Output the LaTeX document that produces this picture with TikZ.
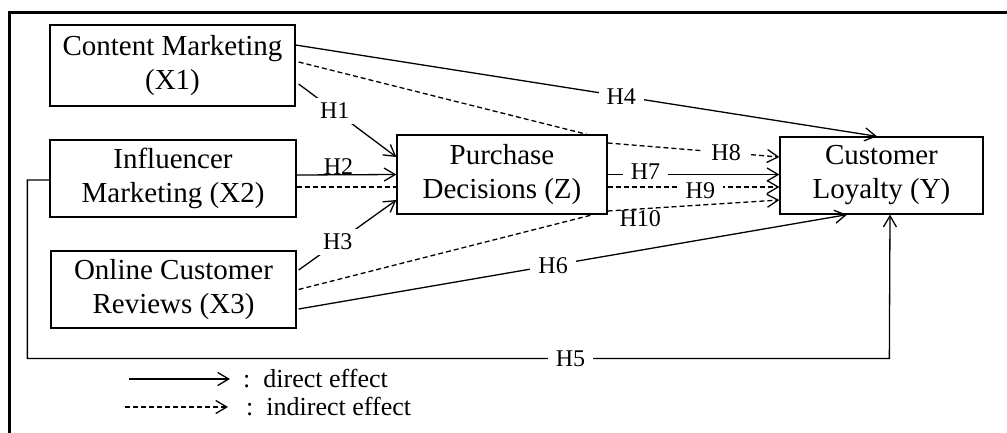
\documentclass[tikz,border=0pt]{standalone}
\usepackage{fontspec}
\setmainfont{Liberation Serif}
\usetikzlibrary{arrows.meta}
\begin{document}
\begin{tikzpicture}[x=1pt,y=-1pt,
  box/.style={draw, line width=1.3pt, align=center, font=\fontsize{29}{34}\selectfont, inner sep=0pt},
  lbl/.style={font=\fontsize{24}{28}\selectfont, fill=white, inner xsep=8pt, inner ysep=2pt},
  lblplain/.style={font=\fontsize{24}{28}\selectfont, inner sep=1pt},
  legtext/.style={font=\fontsize{26}{30}\selectfont, anchor=west, inner sep=0pt},
  dir/.style={line width=1.3pt, -{Straight Barb[length=11pt,width=13pt]}},
  ind/.style={dir, dash pattern=on 5pt off 3pt},
  indl/.style={line width=1.3pt, dash pattern=on 5pt off 3pt}]
\useasboundingbox (0,0) rectangle (1007,432);
\clip (0,0) rectangle (1007,432);
\draw[line width=3pt] (9,12) rectangle (1040,470);

% boxes
\node[box, minimum width=245pt, minimum height=81pt] (cm) at (172.5,65.5) {Content Marketing\\(X1)};
\node[box, minimum width=246pt, minimum height=77pt] (im) at (173,178.5) {Influencer\\Marketing (X2)};
\node[box, minimum width=245pt, minimum height=77pt] (ocr) at (173.5,289.5) {Online Customer\\Reviews (X3)};
\node[box, minimum width=210pt, minimum height=79pt] (pd) at (502,174.5) {Purchase\\Decisions (Z)};
\node[box, minimum width=203pt, minimum height=77pt] (cl) at (881.5,175.5) {Customer\\Loyalty (Y)};

% X1
\draw[dir] ([yshift=20.5pt]cm.east) -- node[lbl, pos=0.56]{H4} ([xshift=-4.5pt]cl.north);
\draw[indl] ([xshift=3pt,yshift=3.5pt]cm.east) -- ([xshift=85pt]pd.north);
\draw[dir] ([xshift=3pt,yshift=-18.5pt]cm.east) -- node[lbl, pos=0.37, inner ysep=5pt]{H1} ([yshift=17.5pt]pd.west);

% X2
\draw[dir] ([yshift=3.5pt]im.east) -- node[lblplain, pos=0.42, anchor=south, inner sep=0pt]{H2} ([yshift=0pt]pd.west);
\draw[indl] ([yshift=-8.5pt]im.east) -- ([yshift=-12.5pt]pd.west);
\draw[dir] ([yshift=-1.5pt]im.west) -- ++(-22,0) -- ++(0,178.5)
  -- node[lbl, pos=0.63]{H5} ++(862,0) -- ([xshift=8.5pt]cl.south);

% X3
\draw[dir] ([xshift=2pt,yshift=19.5pt]ocr.east) -- node[lbl, pos=0.40, inner ysep=5pt]{H3} ([yshift=-25.5pt]pd.west);
\draw[indl] ([xshift=2pt]ocr.east) -- ([xshift=91pt]pd.south);
\draw[dir] ([xshift=2pt,yshift=-19.5pt]ocr.east) -- node[lbl, pos=0.464]{H6} ([xshift=-34.5pt]cl.south);

% Z
\draw[ind] ([yshift=31.5pt]pd.east) -- node[lbl, pos=0.69]{H8} ([yshift=18.5pt]cl.west);
\draw[dir] (pd.east) -- node[lbl, pos=0.22, yshift=3pt]{H7} ([yshift=1pt]cl.west);
\draw[ind] ([yshift=-12.5pt]pd.east) -- node[lbl, pos=0.54, yshift=-4pt]{H9} ([yshift=-11.5pt]cl.west);
\draw[ind] ([yshift=-36.5pt]pd.east) -- node[lblplain, pos=0.19, anchor=north]{H10} ([yshift=-24.5pt]cl.west);

% legend
\node[legtext] (l1) at (243,379) {:\ \ direct effect};
\node[legtext] (l2) at (246,407) {:\ \ indirect effect};
\coordinate (l1s) at (129,379);
\coordinate (l2s) at (125,407);
\draw[dir] (l1s) -- ([xshift=-13pt]l1.west);
\draw[ind] (l2s) -- ([xshift=-18pt]l2.west);
\end{tikzpicture}
\end{document}
